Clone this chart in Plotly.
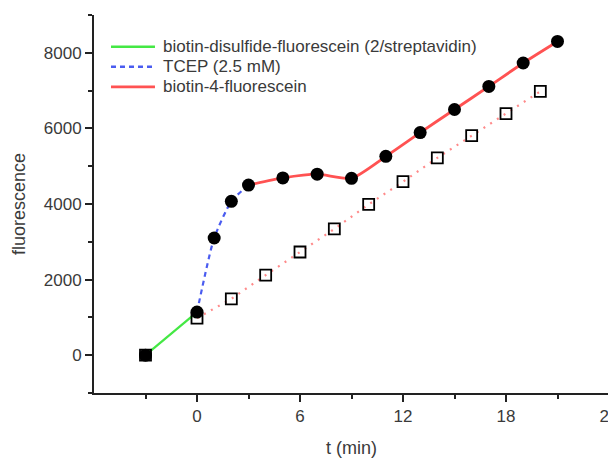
import plotly.graph_objects as go

# Data
green_t = [-3, 0]
green_y = [0, 1140]

blue_t = [0, 1, 2, 3]
blue_y = [1140, 3100, 4070, 4500]

red_t = [3, 5, 7, 9, 11, 13, 15, 17, 19, 21]
red_y = [4500, 4690, 4790, 4680, 5260, 5890, 6500, 7110, 7730, 8300]

circle_t = [-3, 0, 1, 2, 3, 5, 7, 9, 11, 13, 15, 17, 19, 21]
circle_y = [0, 1140, 3100, 4070, 4500, 4690, 4790, 4680, 5260, 5890, 6500, 7110, 7730, 8300]

square_t = [-3, 0, 2, 4, 6, 8, 10, 12, 14, 16, 18, 20]
square_y = [0, 980, 1490, 2120, 2730, 3340, 3990, 4590, 5220, 5810, 6390, 6980]

x_ticks = [0, 6, 12, 18, 24]
x_minor = [-3, 3, 9, 15, 21]
y_ticks = [0, 2000, 4000, 6000, 8000]
y_minor = [-1000, 1000, 3000, 5000, 7000, 9000]

legend_labels = ["biotin-disulfide-fluorescein (2/streptavidin)",
                 "TCEP (2.5 mM)",
                 "biotin-4-fluorescein"]

GREEN = "#44e844"
BLUE = "#4a5cf0"
RED = "#ff5252"
RED_DOT = "#ff8a8a"
TXT = "#3a3a3a"
FONT = "Liberation Sans, Arial, sans-serif"

fig = go.Figure()

# dotted red line through open squares
fig.add_trace(go.Scatter(x=square_t[1:], y=square_y[1:], mode="lines",
                         line=dict(color=RED_DOT, width=2.2, dash="2px,6px"),
                         showlegend=False, hoverinfo="skip"))

fig.add_trace(go.Scatter(x=green_t, y=green_y, mode="lines", name=legend_labels[0],
                         line=dict(color=GREEN, width=2.2), showlegend=False))
fig.add_trace(go.Scatter(x=blue_t, y=blue_y, mode="lines", name=legend_labels[1],
                         line=dict(color=BLUE, width=2.2, dash="5px,4px", shape="spline",
                                   smoothing=0.6), showlegend=False))
fig.add_trace(go.Scatter(x=red_t, y=red_y, mode="lines", name=legend_labels[2],
                         line=dict(color=RED, width=2.8, shape="spline", smoothing=0.6),
                         showlegend=False))

fig.add_trace(go.Scatter(x=square_t, y=square_y, mode="markers", showlegend=False,
                         marker=dict(symbol="square-open", size=11, color="black",
                                     line=dict(width=1.8, color="black"))))
fig.add_trace(go.Scatter(x=circle_t, y=circle_y, mode="markers", showlegend=False,
                         marker=dict(symbol="circle", size=13, color="black")))

# legend drawn in the upper-left corner of the plot (paper coordinates)
leg_styles = [dict(color=GREEN, width=2.6),
              dict(color=BLUE, width=2.6, dash="5px,4px"),
              dict(color=RED, width=2.8)]
leg_rows = [0.916, 0.863, 0.810]
for lab, sty, yy in zip(legend_labels, leg_styles, leg_rows):
    fig.add_shape(type="line", xref="paper", yref="paper", x0=0.033, x1=0.1184,
                  y0=yy, y1=yy, line=sty)
    fig.add_annotation(xref="paper", yref="paper", x=0.130, y=yy, text=lab,
                       showarrow=False, xanchor="left", yanchor="middle",
                       font=dict(family=FONT, size=17, color=TXT))

axis_common = dict(showline=True, linecolor="#222222", linewidth=2, ticks="outside",
                   ticklen=7, tickwidth=1.5, tickcolor="#222222", showgrid=False,
                   zeroline=False, automargin=False, ticklabeloverflow="allow",
                   tickfont=dict(family=FONT, size=17, color=TXT))

fig.update_xaxes(range=[-6, 24], tickvals=x_ticks, ticktext=[str(v) for v in x_ticks],
                 minor=dict(tickvals=x_minor, ticks="outside", ticklen=4,
                            tickcolor="#222222", tickwidth=1.5),
                 title=dict(text="t (min)", font=dict(family=FONT, size=18, color=TXT),
                            standoff=16),
                 **axis_common)
fig.update_yaxes(range=[-1000, 9000], tickvals=y_ticks, ticktext=[str(v) for v in y_ticks],
                 minor=dict(tickvals=y_minor, ticks="outside", ticklen=4,
                            tickcolor="#222222", tickwidth=1.5),
                 title=dict(text="fluorescence", font=dict(family=FONT, size=18, color=TXT),
                            standoff=13),
                 **axis_common)

# the page body adds an 8px margin, so the figure is 8px smaller than the window
fig.update_layout(
    width=608, height=450,
    margin=dict(l=86, r=7, t=7, b=65),
    plot_bgcolor="white", paper_bgcolor="white",
    showlegend=False,
)

fig.write_html("out.html")
